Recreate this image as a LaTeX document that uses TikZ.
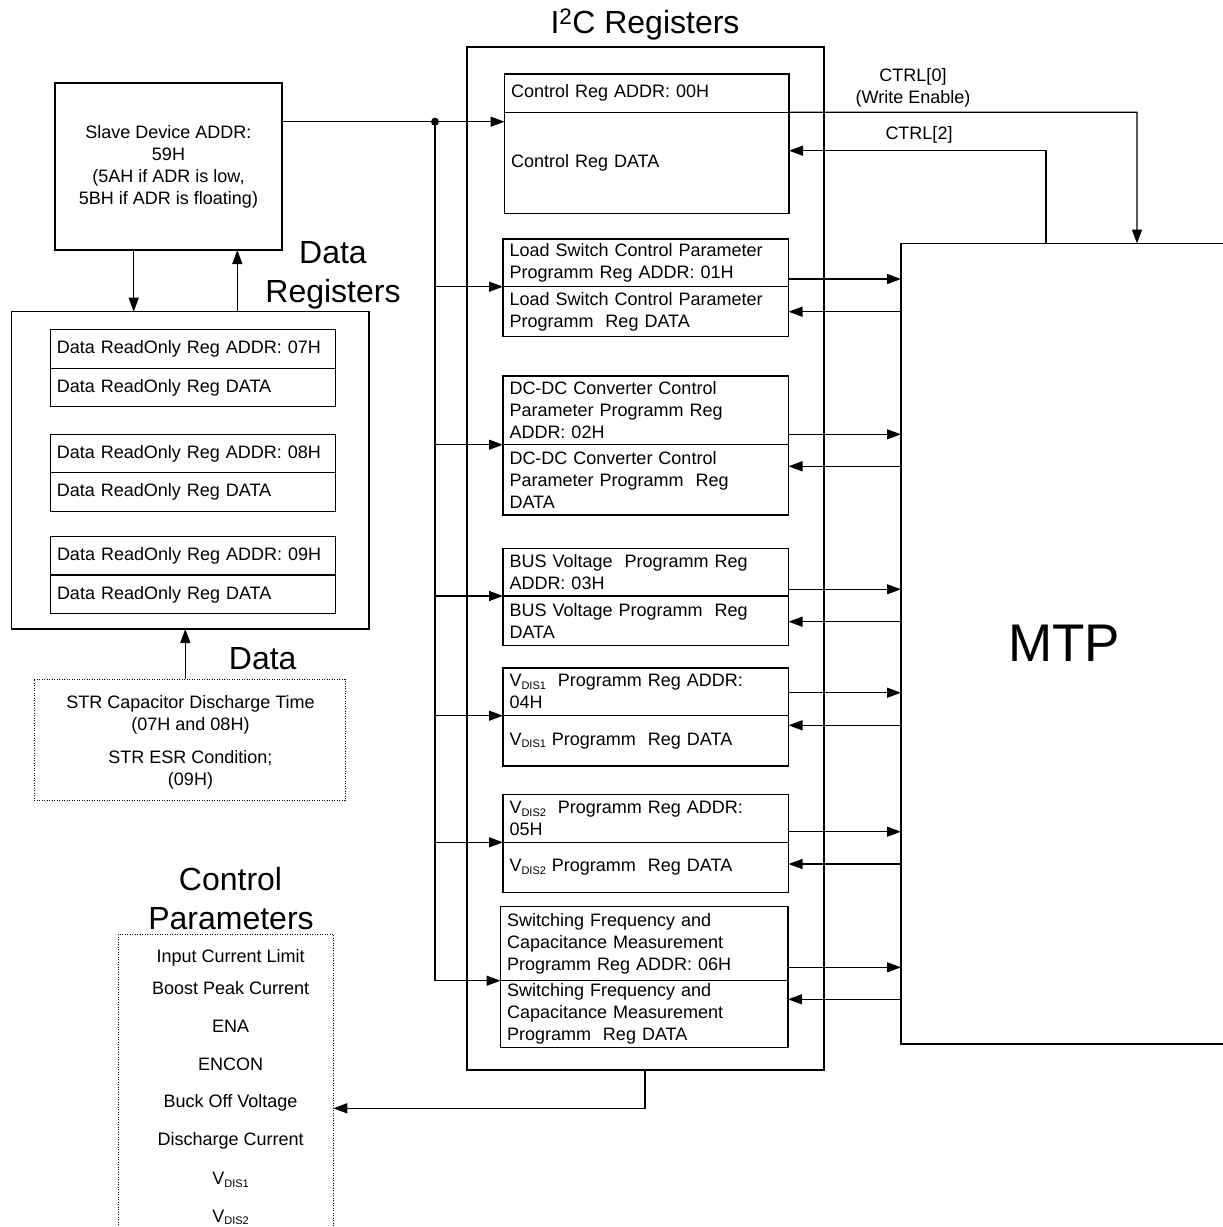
\documentclass[tikz,border=0pt]{standalone}
\usepackage{fontspec}
\setmainfont{Liberation Sans}
\usetikzlibrary{arrows.meta}
\newcommand{\vdis}[1]{V\raisebox{-2.5pt}{\fontsize{11}{11}\selectfont DIS#1}}
\begin{document}
\begin{tikzpicture}[x=1pt,y=-1pt,line width=1.3pt,
  arr/.style={-{Triangle[length=14pt,width=10pt]}},
  box/.style={draw,rectangle,inner sep=0pt,outer sep=0pt,anchor=north west},
  dotbox/.style={draw,line width=1pt,dash pattern=on 1pt off 1.5pt},
  reg/.style={draw,rectangle,inner xsep=6.5pt,inner ysep=0pt,outer sep=0pt,anchor=north west,align=left,font=\fontsize{18}{22}\selectfont},
  txt/.style={inner sep=0pt,font=\fontsize{18}{22}\selectfont,align=center},
  item/.style={inner sep=0pt,font=\fontsize{18}{22}\selectfont,anchor=base},
  big/.style={inner sep=0pt,font=\fontsize{32}{38}\selectfont,anchor=base}]
\useasboundingbox (0,0) rectangle (1223,1227);

% outer boxes
\node[box,minimum width=357pt,minimum height=1023pt] (i2c) at (467,47) {};
\node[big] (i2ct) at (645,33.3) {I\textsuperscript{2}C Registers};
\node[box,minimum width=227pt,minimum height=167pt,align=center,font=\fontsize{18}{22}\selectfont] (slave) at (55,83)
  {Slave Device ADDR:\\59H\\(5AH if ADR is low,\\5BH if ADR is floating)};
\node[box,minimum width=357.3pt,minimum height=317.3pt] (datareg) at (11.7,311.7) {};
\node[big] (drl1) at (333,263.3) {Data};
\node[big] (drl2) at (333,302.7) {Registers};
\node[box,minimum width=330pt,minimum height=800.5pt] (mtp) at (901,243.5) {};
\node[inner sep=0pt,anchor=base,font=\fontsize{53}{60}\selectfont] (mtpl) at (1064,661.5) {MTP};

% data registers
\node[reg,text width=272pt,minimum height=38.6pt] (dr7a) at (50.3,329.7) {Data ReadOnly Reg ADDR: 07H};
\node[reg,text width=272pt,minimum height=38.4pt] (dr7d) at (50.3,368.3) {Data ReadOnly Reg DATA};
\node[reg,text width=272pt,minimum height=38.4pt] (dr8a) at (50.3,434.3) {Data ReadOnly Reg ADDR: 08H};
\node[reg,text width=272pt,minimum height=39pt] (dr8d) at (50.3,472.7) {Data ReadOnly Reg DATA};
\node[reg,text width=272pt,minimum height=38.7pt] (dr9a) at (50.5,536.3) {Data ReadOnly Reg ADDR: 09H};
\node[reg,text width=272pt,minimum height=38.7pt] (dr9d) at (50.5,575) {Data ReadOnly Reg DATA};

% STR box
\node[box,dotbox,minimum width=311pt,minimum height=121.7pt] (str) at (34,679) {};
\node[txt] (s1) at (190.5,715) {STR Capacitor Discharge Time\\(07H and 08H)};
\node[txt] (s2) at (190.5,770) {STR ESR Condition;\\(09H)};
\node[big] (dl) at (262.7,669) {Data};

% control parameters
\node[big] (cpl1) at (230.5,890.7) {Control};
\node[big] (cpl2) at (231,929) {Parameters};
\node[box,dotbox,minimum width=214.8pt,minimum height=330pt] (cp) at (118.5,934) {};
\node[item] (cp1) at (230.6,962.4) {Input Current Limit};
\node[item] (cp2) at (230.6,994.1) {Boost Peak Current};
\node[item] (cp3) at (230.6,1032.1) {ENA};
\node[item] (cp4) at (230.6,1070.1) {ENCON};
\node[item] (cp5) at (230.6,1107.1) {Buck Off Voltage};
\node[item] (cp6) at (230.6,1145.4) {Discharge Current};
\node[item] (cp7) at (230.6,1184.7) {\vdis{1}};
\node[item] (cp8) at (230.6,1222.1) {\vdis{2}};

% I2C registers
\node[reg,text width=271.5pt,minimum height=38.3pt] (crega) at (504.5,74) {Control Reg ADDR: 00H};
\node[reg,text width=271.5pt,minimum height=101pt] (cregd) at (504.5,112.3) {Control Reg DATA};
\node[reg,text width=272.5pt,minimum height=47.7pt] (lsa) at (503,239) {Load Switch Control Parameter\\Programm Reg ADDR: 01H};
\node[reg,text width=272.5pt,minimum height=50pt] (lsd) at (503,286.7) {Load Switch Control Parameter\\Programm~ Reg DATA};
\node[reg,text width=272.5pt,minimum height=68.7pt] (dca) at (503,376) {DC-DC Converter Control\\Parameter Programm Reg\\ADDR: 02H};
\node[reg,text width=272.5pt,minimum height=70.3pt] (dcd) at (503,444.7) {DC-DC Converter Control\\Parameter Programm~ Reg\\DATA};
\node[reg,text width=272.5pt,minimum height=47.7pt] (busa) at (503,548.3) {BUS Voltage~ Programm Reg\\ADDR: 03H};
\node[reg,text width=272.5pt,minimum height=49.7pt] (busd) at (503,596) {BUS Voltage Programm~ Reg\\DATA};
\node[reg,text width=272.5pt,minimum height=47.7pt] (v1a) at (503,668) {\vdis{1}~ Programm Reg ADDR:\\04H};
\node[reg,text width=272.5pt,minimum height=50.3pt] (v1d) at (503,715.7) {\vdis{1} Programm~ Reg DATA};
\node[reg,text width=272.5pt,minimum height=47.6pt] (v2a) at (503,794.7) {\vdis{2}~ Programm Reg ADDR:\\05H};
\node[reg,text width=272.5pt,minimum height=50pt] (v2d) at (503,842.3) {\vdis{2} Programm~ Reg DATA};
\node[reg,text width=274.5pt,minimum height=74.4pt] (swa) at (500.5,906.3) {Switching Frequency and\\Capacitance Measurement\\Programm Reg ADDR: 06H};
\node[reg,text width=274.5pt,minimum height=67pt] (swd) at (500.5,980.7) {Switching Frequency and\\Capacitance Measurement\\Programm~ Reg DATA};

% bus from slave
\coordinate (j) at (435,121.7);
\draw (slave.east |- j) -- (j);
\draw[arr] (j) -- (cregd.west |- j);
\node[circle,fill,inner sep=0pt,minimum size=8pt] (jdot) at (j) {};
\draw (j) -- (j |- swa.south west);
\foreach \b in {lsa,dca,busa,v1a,v2a,swa}
  \draw[arr] (j |- \b.south west) -- (\b.south west);

% to and from MTP
\foreach \a/\ya/\d/\yd in {lsa/279/lsd/311.7,dca/434.3/dcd/466.3,busa/589.3/busd/621.7,v1a/692.7/v1d/725.3,v2a/831.7/v2d/864,swa/967.3/swd/999.3}{
  \draw[arr] (\a.east |- 0,\ya) -- (mtp.west |- 0,\ya);
  \draw[arr] (mtp.west |- 0,\yd) -- (\d.east |- 0,\yd);
}

% CTRL lines
\coordinate (c0) at (1137,112.3);
\draw[arr] (crega.south east) -- (c0) -- (c0 |- mtp.north);
\node[txt] (c0l) at (913,88) {CTRL[0]\\(Write Enable)};
\coordinate (c2) at (1046,150.7);
\draw[arr] (c2 |- mtp.north) -- (c2) -- (cregd.east |- c2);
\node[txt] (c2l) at (919,135) {CTRL[2]};

% slave <-> data registers
\draw[arr] (slave.south -| 133.7,0) -- (datareg.north -| 133.7,0);
\draw[arr] (datareg.north -| 237.3,0) -- (slave.south -| 237.3,0);
\draw[arr] (str.north -| 185.3,0) -- (datareg.south -| 185.3,0);

% I2C -> control parameters
\coordinate (ib) at (645,1108.3);
\draw[arr] (i2c.south -| ib) -- (ib) -- (cp.east |- ib);
\end{tikzpicture}
\end{document}
